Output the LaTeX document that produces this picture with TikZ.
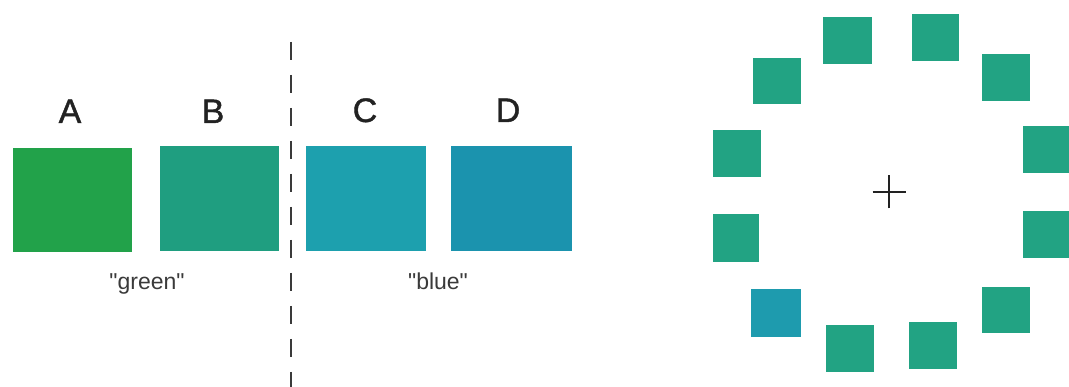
\documentclass[tikz,border=0pt]{standalone}
\usepackage{fontspec}
\setmainfont{Liberation Sans}
\newfontfamily\labelfont[FakeBold=1.2]{Liberation Sans}
\definecolor{cA}{HTML}{22A24A}
\definecolor{cB}{HTML}{1F9E80}
\definecolor{cC}{HTML}{1DA0AE}
\definecolor{cD}{HTML}{1B93AE}
\definecolor{cRing}{HTML}{22A383}
\definecolor{cOdd}{HTML}{1E9BAE}
\definecolor{ink}{HTML}{222222}
\definecolor{soft}{HTML}{3A3A3A}
\begin{document}
\begin{tikzpicture}[x=1pt,y=-1pt,
  patch/.style={fill=#1, draw=none, inner sep=0pt, outer sep=0pt},
  big/.style={patch=#1, minimum width=120pt, minimum height=105pt},
  ring/.style={patch=#1, minimum width=48pt, minimum height=47pt},
  letter/.style={anchor=base, font=\labelfont\fontsize{34}{34}\selectfont, text=ink, inner sep=0pt},
  caption/.style={anchor=base, font=\fontsize{23}{23}\selectfont, text=soft, inner sep=0pt},
  divider/.style={draw=soft, line width=2pt, dash pattern=on 18pt off 15pt},
  crossline/.style={draw=ink, line width=2.5pt}]
\useasboundingbox[fill=white] (0,0) rectangle (1069,387);
% big patches
\node[big=cA, minimum width=119pt, minimum height=104pt] (A) at (72.5,200) {};
\node[big=cB, minimum width=119pt] (B) at (219.5,198.5) {};
\node[big=cC] (C) at (366,198.5) {};
\node[big=cD, minimum width=121pt] (D) at (511.5,198.5) {};
% labels
\node[letter] (lA) at (70,123) {A};
\node[letter] (lB) at (213,123) {B};
\node[letter] (lC) at (365,122) {C};
\node[letter] (lD) at (508,122) {D};
\node[caption] (green) at (147,290) {\textquotedbl green\textquotedbl};
\node[caption] (blue) at (438,290) {\textquotedbl blue\textquotedbl};
% divider
\coordinate (dtop) at (291,42);
\coordinate (dbot) at (291,387);
\draw[divider] (dtop) -- (dbot);
% ring of patches
\node[ring=cRing, minimum width=49pt] (r1) at (847.5,40.5) {};
\node[ring=cRing, minimum width=47pt] (r2) at (935.5,37.5) {};
\node[ring=cRing, minimum height=46pt] (r3) at (777,81) {};
\node[ring=cRing] (r4) at (1006,77.5) {};
\node[ring=cRing] (r5) at (737,153.5) {};
\node[ring=cRing, minimum width=47pt] (r6) at (1046.5,150) {};
\node[ring=cRing, minimum width=46pt, minimum height=48pt] (r7) at (736,238) {};
\node[ring=cRing, minimum width=47pt] (r8) at (1046.5,234.5) {};
\node[ring=cOdd, minimum width=50pt, minimum height=48pt] (r9) at (776,313) {};
\node[ring=cRing, minimum height=46pt] (r10) at (1006,310) {};
\node[ring=cRing] (r11) at (850,348.5) {};
\node[ring=cRing] (r12) at (933,345.5) {};
% fixation cross
\coordinate (fix) at (889,192);
\draw[crossline] ([xshift=-16.5pt]fix) -- ([xshift=16.5pt]fix);
\draw[crossline] ([yshift=-16.5pt]fix) -- ([yshift=16.5pt]fix);
\end{tikzpicture}
\end{document}
